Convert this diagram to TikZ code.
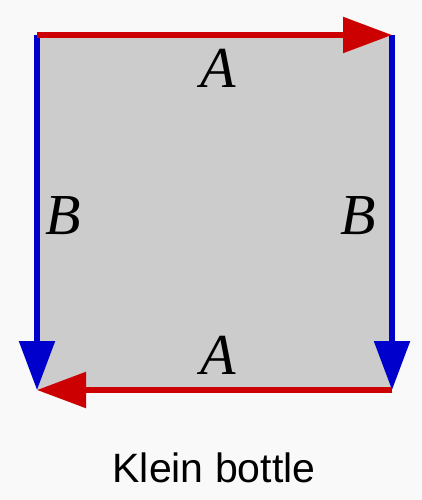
\documentclass[tikz,border=0pt]{standalone}
\usepackage{fontspec}
\newfontfamily\labfont{Liberation Serif}
\newfontfamily\capfont{Liberation Sans}
\usetikzlibrary{arrows.meta, positioning}

\definecolor{edgered}{HTML}{CC0000}
\definecolor{edgeblue}{HTML}{0000CC}
\definecolor{facegray}{HTML}{CCCCCC}
\definecolor{pagebg}{HTML}{F9F9F9}

\begin{document}
\begin{tikzpicture}[
  x=1pt, y=-1pt,
  edge/.style={
    line width=5.5pt,
    -{Triangle[length=49pt, width=35pt]}
  },
  edgeA/.style={edge, draw=edgered},
  edgeB/.style={edge, draw=edgeblue},
  lab/.style={
    font=\labfont\itshape\fontsize{58}{60}\selectfont,
    inner sep=0pt
  }
]

% Background and page size
\path[fill=pagebg] (0,0) rectangle (422,500);

% Corners of the square
\coordinate (tl) at (37,35);
\coordinate (tr) at (392,35);
\coordinate (bl) at (37,390);
\coordinate (br) at (392,390);

\fill[facegray] (tl) rectangle (br);

% Sides B
\draw[edgeB] (tl) -- (bl);
\draw[edgeB] (tr) -- (br);

% Sides A
\draw[edgeA] (tl) -- (tr);
\draw[edgeA] (br) -- (bl);

% Labels
\node[lab, anchor=base] (topA) at (218,88) {A};
\node[lab, anchor=base] (botA) at (218,374) {A};
\node[lab, anchor=base] (leftB) at (63,234) {B};
\node[lab, anchor=base] (rightB) at (358,234) {B};

\node[font=\capfont\fontsize{41}{44}\selectfont, anchor=base] (caption) at (214,482) {Klein bottle};

\end{tikzpicture}
\end{document}
